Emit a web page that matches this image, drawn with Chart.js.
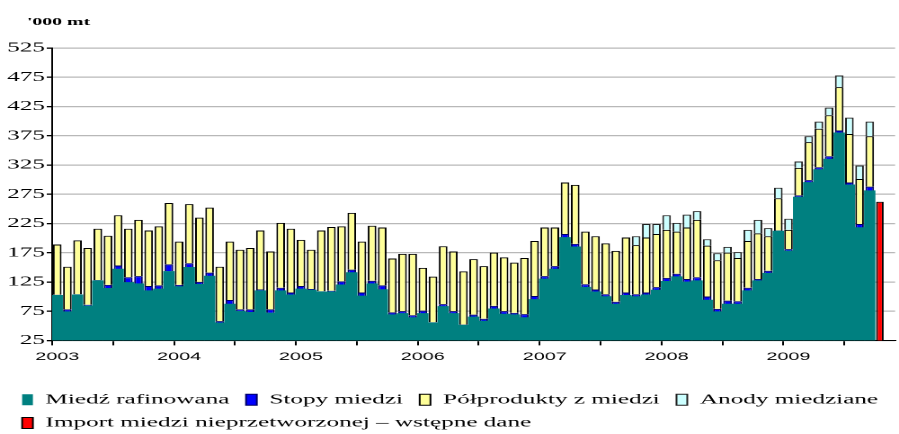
<!DOCTYPE html>
<html lang="pl">
<head>
    <meta charset="UTF-8">
    <title>Import miedzi</title>
    <script src="https://cdn.jsdelivr.net/npm/chart.js"></script>
    <style>
        body { margin: 0; background: #fff; overflow: hidden; }
        /* wykres oryginalny jest rozciągnięty w poziomie */
        #wrap { width: 500px; height: 434px; transform: scaleX(1.798); transform-origin: 0 0; }
    </style>
</head>
<body>
    <div id="wrap"><canvas id="myChart"></canvas></div>

    <script>
        const years = ['2003', '2004', '2005', '2006', '2007', '2008', '2009'];
        const months = ['01', '02', '03', '04', '05', '06', '07', '08', '09', '10', '11', '12'];

        // miesiące od 2003-01 do 2009-11
        const categories = [];
        years.forEach(y => months.forEach(m => categories.push(y + '-' + m)));
        categories.length = 83;

        const rafinowana = [
            102, 74, 103, 84, 127, 114, 147, 124, 122, 110, 113, 143,
            117, 150, 121, 135, 55, 87, 75, 73, 110, 72, 110, 103,
            113, 111, 108, 108, 120, 141, 101, 122, 112, 69, 71, 64,
            71, 55, 83, 71, 51, 65, 58, 79, 70, 69, 64, 95,
            130, 147, 201, 185, 116, 108, 100, 87, 102, 100, 103, 111,
            126, 134, 125, 127, 94, 74, 87, 87, 110, 127, 140, 212,
            178, 270, 295, 317, 335, 380, 291, 218, 281, null, null
        ];
        const stopy = [
            1, 4, 1, 2, 1, 6, 6, 9, 13, 8, 6, 12,
            3, 7, 4, 6, 3, 7, 3, 5, 2, 6, 5, 4,
            5, 2, 1, 2, 6, 5, 6, 5, 7, 4, 4, 4,
            5, 1, 4, 4, 1, 4, 4, 5, 5, 3, 6, 6,
            5, 5, 6, 5, 5, 4, 4, 4, 5, 4, 4, 5,
            6, 5, 5, 6, 6, 5, 6, 5, 5, 3, 4, 1,
            3, 3, 4, 4, 5, 4, 4, 6, 7, null, null
        ];
        const polprodukty = [
            86, 73, 92, 97, 88, 84, 86, 83, 96, 95, 101, 105,
            74, 101, 110, 111, 93, 100, 102, 105, 101, 99, 111, 109,
            79, 67, 104, 109, 94, 97, 87, 94, 99, 92, 98, 105,
            73, 78, 99, 102, 91, 95, 90, 91, 92, 86, 96, 94,
            83, 66, 88, 101, 90, 91, 87, 87, 94, 84, 94, 91,
            82, 72, 88, 98, 87, 83, 82, 74, 80, 78, 59, 55,
            33, 47, 65, 66, 70, 74, 83, 77, 86, null, null
        ];
        const anody = [
            null, null, null, null, null, null, null, null, null, null, null, null,
            null, null, null, null, null, null, null, null, null, null, null, null,
            null, null, null, null, null, null, null, null, null, null, null, null,
            null, null, null, null, null, null, null, null, null, null, null, null,
            null, null, null, null, null, null, null, null, null, 15, 23, 17,
            25, 15, 22, 15, 11, 12, 10, 10, 19, 23, 14, 18,
            19, 11, 10, 12, 13, 20, 28, 23, 25, null, null
        ];
        const importMiedzi = [{ x: '2009-10', y: 262 }];

        const serif = 'Liberation Serif';

        const unitLabel = {
            id: 'unitLabel',
            afterDraw(chart) {
                const ctx = chart.ctx;
                ctx.save();
                ctx.font = 'bold 11px "' + serif + '"';
                ctx.fillStyle = '#000';
                ctx.textBaseline = 'middle';
                ctx.fillText("'000 mt", 15, 22);
                ctx.restore();
            }
        };

        new Chart(document.getElementById('myChart'), {
            type: 'bar',
            data: {
                labels: categories,
                datasets: [
                    {
                        label: 'Miedź rafinowana',
                        data: rafinowana,
                        backgroundColor: '#008080',
                        borderWidth: 0,
                        barPercentage: 1,
                        categoryPercentage: 1
                    },
                    {
                        label: 'Stopy miedzi',
                        data: stopy,
                        backgroundColor: '#0000ff',
                        borderColor: '#000066',
                        borderWidth: 1
                    },
                    {
                        label: 'Półprodukty z miedzi',
                        data: polprodukty,
                        backgroundColor: '#ffff99',
                        borderColor: '#000',
                        borderWidth: 1
                    },
                    {
                        label: 'Anody miedziane',
                        data: anody,
                        backgroundColor: '#ccffff',
                        borderColor: '#222',
                        borderWidth: 1
                    },
                    {
                        label: 'Import miedzi nieprzetworzonej – wstępne dane',
                        data: importMiedzi,
                        backgroundColor: '#ff0000',
                        borderColor: '#000',
                        borderWidth: 1,
                        barPercentage: 0.75
                    }
                ]
            },
            options: {
                responsive: true,
                maintainAspectRatio: false,
                devicePixelRatio: 2,
                animation: false,
                datasets: {
                    bar: { stack: 'all', barPercentage: 0.85, categoryPercentage: 1 }
                },
                layout: { padding: { top: 48, left: 3, right: 0, bottom: -6 } },
                plugins: {
                    tooltip: { enabled: false },
                    legend: {
                        position: 'bottom',
                        align: 'start',
                        labels: {
                            color: '#000',
                            font: { family: serif, size: 14 },
                            boxWidth: 6,
                            boxHeight: 11,
                            padding: 9.3
                        }
                    }
                },
                scales: {
                    x: {
                        stacked: true,
                        offset: true,
                        afterFit: scale => { scale.height = 43; },
                        border: { color: '#000', width: 1 },
                        grid: {
                            offset: true,
                            drawOnChartArea: false,
                            tickLength: 5,
                            tickColor: ctx => ctx.index % 6 === 0 ? '#000' : 'rgba(0,0,0,0)'
                        },
                        ticks: {
                            autoSkip: false,
                            maxRotation: 0,
                            padding: 5,
                            color: '#000',
                            font: { family: 'Liberation Sans', size: 11 },
                            callback: (value, index) => index % 12 === 0 ? years[index / 12] : ''
                        }
                    },
                    y: {
                        stacked: true,
                        min: 25,
                        max: 525,
                        border: { color: '#000', width: 1 },
                        grid: {
                            color: '#b8b8b8',
                            lineWidth: 1.3,
                            tickColor: '#000',
                            tickLength: 3
                        },
                        ticks: {
                            stepSize: 50,
                            padding: 1,
                            color: '#000',
                            font: { family: serif, size: 14 }
                        }
                    }
                }
            },
            plugins: [unitLabel]
        });
    </script>
</body>
</html>
